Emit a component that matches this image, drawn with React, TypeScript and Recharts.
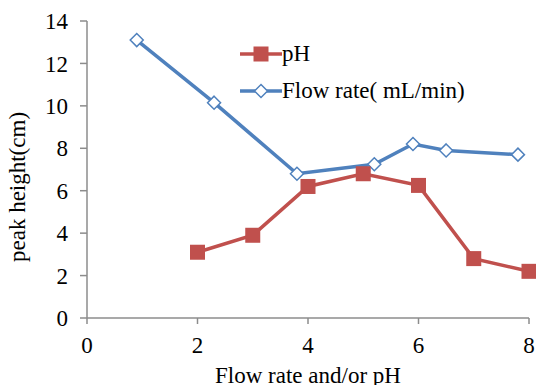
import { FC } from "react";
import { Line, LineChart, XAxis, YAxis } from "recharts";

const phX = [2, 3, 4, 5, 6, 7, 8];
const phValues = [3.1, 3.9, 6.2, 6.8, 6.25, 2.8, 2.2];
const flowX = [0.9, 2.3, 3.8, 5.2, 5.9, 6.5, 7.8];
const flowValues = [13.1, 10.15, 6.8, 7.25, 8.2, 7.9, 7.7];
const xTicks = [0, 2, 4, 6, 8];
const yTicks = [0, 2, 4, 6, 8, 10, 12, 14];

const RED = "#C0504D";
const BLUE = "#4F81BD";
const AXIS = "#8c8c8c";
const FONT = "'Liberation Serif', 'Times New Roman', Times, serif";
const FS = 23;

const phData = phX.map((x, i) => ({ x, y: phValues[i] }));
const flowData = flowX.map((x, i) => ({ x, y: flowValues[i] }));

const Square = (props: any) => {
  const { cx, cy } = props;
  if (cx == null || cy == null) return null;
  return <rect x={cx - 7.5} y={cy - 7.5} width={15} height={15} fill={RED} />;
};

const Diamond = (props: any) => {
  const { cx, cy } = props;
  if (cx == null || cy == null) return null;
  const r = 6.5;
  return (
    <polygon
      points={`${cx},${cy - r} ${cx + r},${cy} ${cx},${cy + r} ${cx - r},${cy}`}
      fill="#fff"
      stroke={BLUE}
      strokeWidth={1.5}
    />
  );
};

const LegendBox: FC = () => (
  <div
    style={{
      position: "absolute",
      left: 240,
      top: 35,
      fontFamily: FONT,
      fontSize: FS,
      color: "#000",
      lineHeight: "37px",
    }}
  >
    <div style={{ display: "flex", alignItems: "center" }}>
      <svg width={42} height={20}>
        <line x1={0} y1={10} x2={42} y2={10} stroke={RED} strokeWidth={3.5} />
        <rect x={13.5} y={2.5} width={15} height={15} fill={RED} />
      </svg>
      <span>pH</span>
    </div>
    <div style={{ display: "flex", alignItems: "center" }}>
      <svg width={42} height={20}>
        <line x1={0} y1={10} x2={42} y2={10} stroke={BLUE} strokeWidth={3.5} />
        <polygon points="21,3.5 27.5,10 21,16.5 14.5,10" fill="#fff" stroke={BLUE} strokeWidth={1.5} />
      </svg>
      <span>Flow rate( mL/min)</span>
    </div>
  </div>
);

const YLabel = () => (
  <text
    x={25}
    y={187}
    transform="rotate(-90 25 187)"
    textAnchor="middle"
    style={{ fontFamily: FONT }}
    fontSize={FS}
    fill="#000"
  >
    peak height(cm)
  </text>
);

const App: FC = () => {
  return (
    <div style={{ position: "absolute", left: 0, top: 0, background: "#fff", fontFamily: FONT }}>
      <LineChart
        width={536}
        height={385}
        margin={{ top: 21, right: 7, left: 0, bottom: 0 }}
        style={{ fontFamily: FONT }}
      >
        <XAxis
          type="number"
          dataKey="x"
          domain={[0, 8]}
          ticks={xTicks}
          height={67}
          stroke={AXIS}
          strokeWidth={1.5}
          tickSize={6}
          tickMargin={13}
          tick={{ fill: "#000", fontSize: FS, style: { fontFamily: FONT } }}
          allowDuplicatedCategory={false}
          label={{
            value: "Flow rate and/or pH",
            position: "insideBottom",
            offset: 2,
            fill: "#000",
            fontSize: FS,
            style: { fontFamily: FONT },
          }}
        />
        <YAxis
          type="number"
          domain={[0, 14]}
          ticks={yTicks}
          width={87}
          stroke={AXIS}
          strokeWidth={1.5}
          tickSize={7}
          tickMargin={12}
          tick={{ fill: "#000", fontSize: FS, style: { fontFamily: FONT } }}
          label={<YLabel />}
        />
        <Line
          data={flowData}
          dataKey="y"
          name="Flow rate( mL/min)"
          stroke={BLUE}
          strokeWidth={3.5}
          dot={<Diamond />}
          isAnimationActive={false}
        />
        <Line
          data={phData}
          dataKey="y"
          name="pH"
          stroke={RED}
          strokeWidth={3.5}
          dot={<Square />}
          isAnimationActive={false}
        />
      </LineChart>
      <LegendBox />
    </div>
  );
};

export default App;
